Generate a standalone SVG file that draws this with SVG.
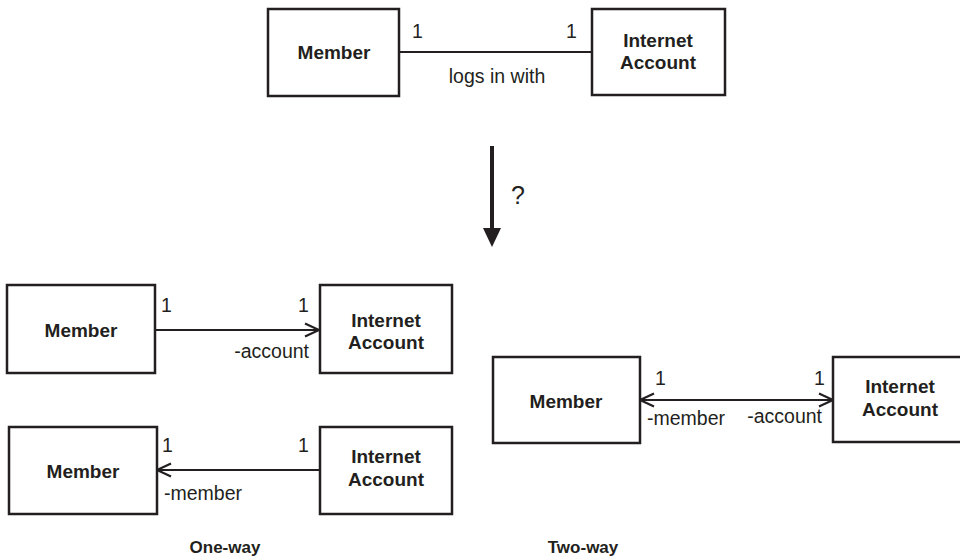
<svg xmlns="http://www.w3.org/2000/svg" width="960" height="559" viewBox="0 0 960 559">
<defs>
<style>
.box{fill:#fff;stroke:#231f20;stroke-width:2.5}
.ln{fill:none;stroke:#231f20;stroke-width:2.2}
.t{font-family:"Liberation Sans",Arial,sans-serif;fill:#231f20}
.b{font-weight:bold;font-size:19px;text-anchor:middle}
.n{font-size:19.5px}
.c{font-weight:bold;font-size:17px;text-anchor:middle}
</style>
<marker id="open" viewBox="0 0 18 16" refX="16" refY="8" markerWidth="18" markerHeight="16" markerUnits="userSpaceOnUse" orient="auto-start-reverse">
<path d="M2,1.5 L16,8 L2,14.5" fill="none" stroke="#231f20" stroke-width="2.2"/>
</marker>
</defs>
<rect width="960" height="559" fill="#fff"/>

<g id="connectors">
<line class="ln" x1="399" y1="52" x2="592" y2="52"/>
<line x1="492" y1="146" x2="492" y2="230" stroke="#231f20" stroke-width="4"/>
<polygon points="483,228 501,228 492,247" fill="#231f20"/>
<line class="ln" x1="155" y1="330" x2="319" y2="330" marker-end="url(#open)"/>
<line class="ln" x1="157" y1="470" x2="320" y2="470" marker-start="url(#open)"/>
<line class="ln" x1="640" y1="400" x2="833" y2="400" marker-start="url(#open)" marker-end="url(#open)"/>
</g>

<g id="labels" class="t">
<text class="n" x="412" y="38">1</text>
<text class="n" x="566" y="38">1</text>
<text class="n" x="497" y="83" text-anchor="middle">logs in with</text>
<text class="n" x="518" y="204" text-anchor="middle" style="font-size:25px">?</text>
<text class="n" x="161" y="312">1</text>
<text class="n" x="298" y="312">1</text>
<text class="n" x="309" y="358" text-anchor="end">-account</text>
<text class="n" x="162" y="452">1</text>
<text class="n" x="298" y="452">1</text>
<text class="n" x="164" y="500">-member</text>
<text class="n" x="655" y="385">1</text>
<text class="n" x="814" y="385">1</text>
<text class="n" x="647" y="425">-member</text>
<text class="n" x="822" y="423" text-anchor="end">-account</text>
<text class="c" x="225" y="553">One-way</text>
<text class="c" x="583" y="553">Two-way</text>
</g>

<g id="top-member">
<rect class="box" x="268" y="9" width="131" height="87"/>
<text class="t b" x="334" y="59">Member</text>
</g>
<g id="top-account">
<rect class="box" x="592" y="9" width="133" height="86"/>
<text class="t b" x="658" y="47">Internet</text>
<text class="t b" x="658" y="69">Account</text>
</g>

<g id="ow1-member">
<rect class="box" x="7" y="285" width="148" height="88"/>
<text class="t b" x="81" y="337">Member</text>
</g>
<g id="ow1-account">
<rect class="box" x="320" y="285" width="132" height="88"/>
<text class="t b" x="386" y="327">Internet</text>
<text class="t b" x="386" y="349">Account</text>
</g>

<g id="ow2-member">
<rect class="box" x="9" y="427" width="148" height="87"/>
<text class="t b" x="83" y="478">Member</text>
</g>
<g id="ow2-account">
<rect class="box" x="320" y="427" width="132" height="87"/>
<text class="t b" x="386" y="463">Internet</text>
<text class="t b" x="386" y="486">Account</text>
</g>

<g id="tw-member">
<rect class="box" x="493" y="357" width="147" height="86"/>
<text class="t b" x="566" y="408">Member</text>
</g>
<g id="tw-account">
<rect class="box" x="833" y="357" width="134" height="85"/>
<text class="t b" x="900" y="393">Internet</text>
<text class="t b" x="900" y="416">Account</text>
</g>
</svg>
